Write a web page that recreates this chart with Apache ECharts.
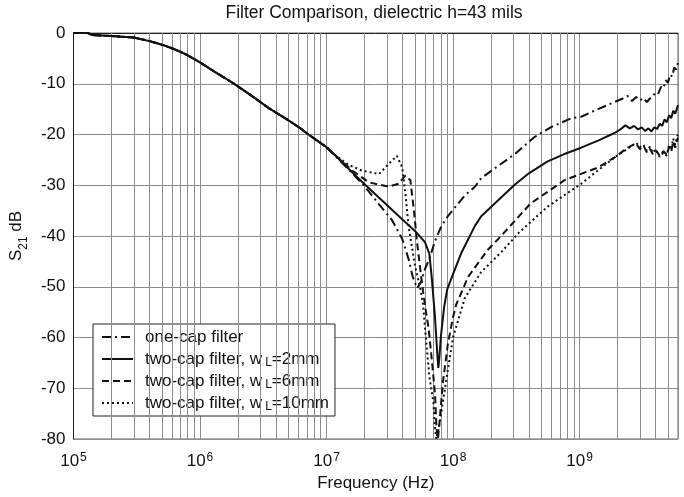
<!DOCTYPE html>
<html>
<head>
<meta charset="utf-8">
<script src="https://cdn.jsdelivr.net/npm/echarts@6/dist/echarts.min.js"></script>
<style>
html,body{margin:0;padding:0;background:#fff;}
#c{width:684px;height:497px;}
</style>
</head>
<body>
<div id="c"></div>
<script>
// ---- data (frequency in Hz, S21 in dB) ----
const commonF  = [1e5, 1.3e5, 1.4e5, 2e5, 3e5, 4e5, 5e5, 6e5, 7e5, 8e5, 1e6, 1.3e6, 1.86e6, 2.5e6, 3.5e6, 5e6, 6.4e6, 7.2e6, 1e7];
const commonDb = [0, 0, -0.4, -0.6, -0.9, -1.6, -2.3, -3.0, -3.7, -4.4, -5.8, -7.6, -10, -12.2, -14.8, -17.2, -19.0, -20.0, -22.5];

const oneCapF  = [1.5e7, 2e7, 2.57e7, 3.28e7, 3.97e7, 4.45e7, 4.8e7, 5.2e7, 5.6e7, 6.0e7, 6.5e7, 7.2e7, 8.1e7, 9.1e7, 1.24e8, 1.49e8, 1.67e8, 2.27e8, 3.07e8, 4.4e8, 6e8, 8.6e8, 1.03e9, 1.4e9, 1.89e9, 2.2e9, 2.4e9, 2.6e9, 2.8e9, 3.0e9, 3.2e9, 3.4e9, 3.6e9, 3.8e9, 4.0e9, 4.2e9, 4.4e9, 4.6e9, 4.8e9, 5.0e9, 5.2e9, 5.4e9, 5.6e9, 5.8e9, 6.0e9];
const oneCapDb = [-26.9, -30.2, -33.6, -36.8, -40.6, -44.5, -48, -50.3, -49, -46.5, -44.5, -41, -38, -36.1, -32, -30.3, -28.6, -26.2, -23.9, -20.5, -18.5, -16.8, -16.5, -15, -13.6, -12.9, -12.4, -13.4, -12.6, -13.3, -12.8, -13.6, -12.9, -12.5, -11.6, -11.9, -10.6, -10.9, -9.3, -9.8, -8.2, -8.6, -6.8, -7.2, -5.9];

const twoCap2F  = [1.16e7, 1.5e7, 2e7, 3e7, 4e7, 5e7, 6e7, 6.5e7, 6.8e7, 7.2e7, 7.5e7, 7.65e7, 7.8e7, 8.0e7, 8.5e7, 9.0e7, 1.0e8, 1.17e8, 1.49e8, 1.67e8, 2.4e8, 3.07e8, 4.0e8, 5.6e8, 7.5e8, 1.03e9, 1.4e9, 1.89e9, 2.1e9, 2.3e9, 2.5e9, 2.7e9, 2.9e9, 3.1e9, 3.3e9, 3.5e9, 3.7e9, 3.9e9, 4.1e9, 4.3e9, 4.5e9, 4.7e9, 4.9e9, 5.1e9, 5.3e9, 5.5e9, 5.7e9, 6.0e9];
const twoCap2Db = [-24.0, -26.8, -29.8, -33.9, -36.8, -39.0, -41.2, -43.5, -48.4, -56, -63, -66, -64, -60, -54, -50.5, -47.5, -43.2, -38, -36.1, -32.4, -29.9, -27.6, -25.3, -23.9, -22.6, -21.2, -19.7, -19.0, -18.2, -18.8, -18.3, -19.0, -18.6, -19.3, -18.8, -19.4, -18.6, -18.9, -17.9, -18.3, -17.0, -17.6, -16.2, -16.8, -15.3, -15.9, -14.2];

const twoCap6F  = [1.16e7, 1.6e7, 2.15e7, 3.1e7, 3.7e7, 4.2e7, 4.6e7, 4.9e7, 5.2e7, 5.5e7, 5.8e7, 6.2e7, 6.4e7, 6.8e7, 7.2e7, 7.4e7, 7.6e7, 7.8e7, 8.3e7, 9.1e7, 1.0e8, 1.06e8, 1.32e8, 1.67e8, 1.9e8, 2.4e8, 4.1e8, 7.6e8, 1.4e9, 1.9e9, 2.4e9, 2.8e9, 3.0e9, 3.2e9, 3.4e9, 3.6e9, 3.8e9, 4.0e9, 4.3e9, 4.6e9, 4.9e9, 5.1e9, 5.3e9, 5.5e9, 5.7e9, 6.0e9];
const twoCap6Db = [-24.0, -27.1, -29.4, -30.3, -29.7, -28.1, -29, -34.8, -41.3, -46.4, -51, -56, -58, -64.5, -71, -78, -80, -77, -69, -61.3, -56, -53.5, -48, -44.5, -42.6, -40, -33.6, -29, -26.5, -24.5, -22.6, -21.8, -22.9, -22.2, -23.5, -22.8, -23.9, -23.1, -24.2, -23.3, -24.0, -22.4, -23.4, -21.4, -22.6, -20.6];

const twoCap10F  = [1.16e7, 1.5e7, 1.9e7, 2.6e7, 3.1e7, 3.6e7, 3.97e7, 4.2e7, 4.45e7, 5.0e7, 5.5e7, 5.8e7, 6.0e7, 6.5e7, 7.0e7, 7.2e7, 7.4e7, 7.7e7, 8.3e7, 9.1e7, 1.0e8, 1.24e8, 1.67e8, 2.4e8, 3.3e8, 5.6e8, 1.03e9, 1.89e9, 2.4e9, 2.8e9, 3.0e9, 3.2e9, 3.4e9, 3.6e9, 3.8e9, 4.0e9, 4.3e9, 4.6e9, 4.9e9, 5.1e9, 5.3e9, 5.5e9, 5.7e9, 6.0e9];
const twoCap10Db = [-24.0, -26.0, -27.1, -27.8, -25.8, -24.2, -26.5, -31.6, -38, -45.8, -50.3, -53.5, -58, -67.7, -72.8, -78, -80, -78, -72.8, -66.4, -60, -52.2, -47.1, -43.2, -39.4, -34.2, -29.7, -24.5, -22.8, -21.6, -22.5, -22.0, -23.2, -22.4, -23.6, -22.9, -24.4, -23.6, -24.2, -22.0, -23.0, -20.8, -22.0, -19.8];

const seriesNames = ['one-cap filter', 'two-cap filter, wL=2mm', 'two-cap filter, wL=6mm', 'two-cap filter, wL=10mm'];
const decadeExponents = [5, 6, 7, 8, 9];
const minorMultipliers = [2, 3, 4, 5, 6, 7, 8, 9];
const xMin = 1e5, xMax = 6e9;
const yMin = -80, yMax = 0, yStep = 10;

// ---- build ----
function pairs(f, d) { return f.map((x, i) => [x, d[i]]); }
function withCommon(f, d) { return pairs(commonF.concat(f), commonDb.concat(d)); }

const gridLines = [];
decadeExponents.forEach(e => {
  minorMultipliers.forEach(m => {
    const v = m * Math.pow(10, e);
    if (v < xMax) gridLines.push({ xAxis: v });
  });
});

const FONT = 'Liberation Sans, Arial, sans-serif';
const INK = '#111';
const GRID = '#8c8c8c';

const chart = echarts.init(document.getElementById('c'), null, { renderer: 'canvas' });
chart.setOption({
  animation: false,
  backgroundColor: '#fff',
  textStyle: { fontFamily: FONT, color: INK },
  graphic: [{
    type: 'text', x: 374, y: 13,
    style: { text: 'Filter Comparison, dielectric h=43 mils', textAlign: 'center', textVerticalAlign: 'middle',
             font: '17.5px ' + FONT, fill: INK }
  }],
  grid: { left: 71, right: 6, top: 33, bottom: 50, show: true, borderColor: '#666', borderWidth: 1 },
  legend: {
    data: seriesNames,
    orient: 'vertical', left: 93, top: 324,
    backgroundColor: '#fff', borderColor: '#222', borderWidth: 1,
    padding: [3, 6, 3, 8], itemGap: 2, itemWidth: 31, itemHeight: 14,
    itemStyle: { color: 'rgba(0,0,0,0)', borderWidth: 0, opacity: 0 },
    formatter: n => n.replace('wL', 'w{sub|L}'),
    textStyle: {
      fontFamily: FONT, fontSize: 17, color: INK, lineHeight: 20, padding: [0, 0, 0, 7],
      rich: { sub: { fontFamily: FONT, fontSize: 12, color: INK, lineHeight: 12, padding: [8, 0, 0, 3] } }
    }
  },
  xAxis: {
    type: 'log', logBase: 10, min: xMin, max: xMax,
    name: 'Frequency (Hz)', nameLocation: 'middle', nameGap: 36,
    nameTextStyle: { fontFamily: FONT, fontSize: 17, color: INK },
    axisLine: { show: true, lineStyle: { color: '#222', width: 1 } },
    axisTick: { show: false },
    splitLine: { show: true, lineStyle: { color: GRID, width: 1 } },
    axisLabel: {
      margin: 13, showMaxLabel: false,
      formatter: v => {
        const l = Math.log10(v), e = Math.round(l);
        if (Math.abs(l - e) > 1e-6) return '';
        return '10{sup|' + e + '}';
      },
      fontFamily: FONT, fontSize: 17, color: INK, lineHeight: 18,
      rich: { sup: { fontFamily: FONT, fontSize: 12, color: INK, verticalAlign: 'top', lineHeight: 12, padding: [0, 0, 0, 1] } }
    }
  },
  yAxis: {
    type: 'value', min: yMin, max: yMax, interval: yStep,
    name: 'S{sub|21} dB', nameLocation: 'middle', nameGap: 40, nameRotate: 90,
    nameTextStyle: {
      fontFamily: FONT, fontSize: 17, color: INK,
      rich: { sub: { fontFamily: FONT, fontSize: 12, color: INK, verticalAlign: 'bottom', padding: [0, 0, -5, 0] } }
    },
    axisLine: { show: true, lineStyle: { color: '#222', width: 1 } },
    axisTick: { show: false },
    splitLine: { show: true, lineStyle: { color: GRID, width: 1 } },
    axisLabel: { margin: 8, fontFamily: FONT, fontSize: 17, color: INK }
  },
  series: [
    {
      name: 'minor-grid', type: 'line', data: [], z: 1, silent: true,
      markLine: { silent: true, symbol: ['none', 'none'], label: { show: false },
                  lineStyle: { color: GRID, width: 1, type: 'solid' }, emphasis: { disabled: true },
                  data: gridLines, animation: false }
    },
    { name: seriesNames[0], type: 'line', symbol: 'none', data: withCommon(oneCapF, oneCapDb),
      lineStyle: { color: INK, width: 2, type: [9, 4, 2, 4] }, itemStyle: { color: INK }, z: 5 },
    { name: seriesNames[1], type: 'line', symbol: 'none', data: withCommon(twoCap2F, twoCap2Db),
      lineStyle: { color: INK, width: 2, type: 'solid' }, itemStyle: { color: INK }, z: 5 },
    { name: seriesNames[2], type: 'line', symbol: 'none', data: withCommon(twoCap6F, twoCap6Db),
      lineStyle: { color: INK, width: 2, type: [7, 4] }, itemStyle: { color: INK }, z: 5 },
    { name: seriesNames[3], type: 'line', symbol: 'none', data: withCommon(twoCap10F, twoCap10Db),
      lineStyle: { color: INK, width: 2, type: [2, 3] }, itemStyle: { color: INK }, z: 5 }
  ]
});
</script>
</body>
</html>
